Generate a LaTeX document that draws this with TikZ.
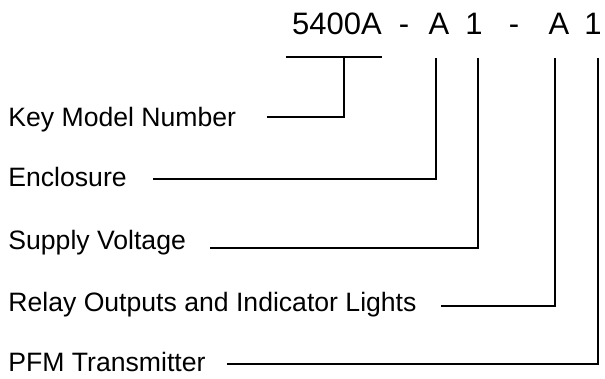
\documentclass[tikz,border=0pt]{standalone}
\usepackage{fontspec}
\setmainfont{Liberation Sans}
\usetikzlibrary{positioning}

\tikzset{
  lbl/.style={anchor=west, inner sep=0pt, text height=.716em, text depth=0pt},
  code/.style={anchor=base, inner sep=0pt, font=\fontsize{15.5}{18}\selectfont},
  wire/.style={line width=1.3pt}
}

\begin{document}
\begin{tikzpicture}[x=0.5pt, y=-0.5pt, font=\fontsize{13.3}{16}\selectfont]
  \useasboundingbox (0,0) rectangle (605,379);
  % part number
  \node[code] (model) at (337,35) {5400A};
  \node[code] (dash1) at (404,35) {-};
  \node[code] (encA) at (439,35) {A};
  \node[code] (volt1) at (474,35) {1};
  \node[code] (dash2) at (514,35) {-};
  \node[code] (relA) at (559,35) {A};
  \node[code] (pfm1) at (593,35) {1};
  % labels
  \node[lbl] (key) at (8,119) {Key Model Number};
  \node[lbl] (encl) at (8,179) {Enclosure};
  \node[lbl] (volt) at (8,242) {Supply Voltage};
  \node[lbl] (relay) at (8,304) {Relay Outputs and Indicator Lights};
  \node[lbl] (pfm) at (8,364) {PFM Transmitter};
  % tops of the leads
  \coordinate (brL) at (286,57);
  \coordinate (brR) at (382,57);
  \coordinate (brM) at (344,57);
  \coordinate (tA1) at (436,58);
  \coordinate (t1a) at (478,58);
  \coordinate (tA2) at (555,58);
  \coordinate (t1b) at (598,58);
  \draw[wire] (brL) -- (brR);
  \draw[wire] (key.east) ++(31,-2) -| (brM);
  \draw[wire] (encl.east) ++(26,0) -| (tA1);
  \draw[wire] (volt.east) ++(24,6) -| (t1a);
  \draw[wire] (relay.east) ++(24,2) -| (tA2);
  \draw[wire] (pfm.east) ++(21,0) -| (t1b);
\end{tikzpicture}
\end{document}
